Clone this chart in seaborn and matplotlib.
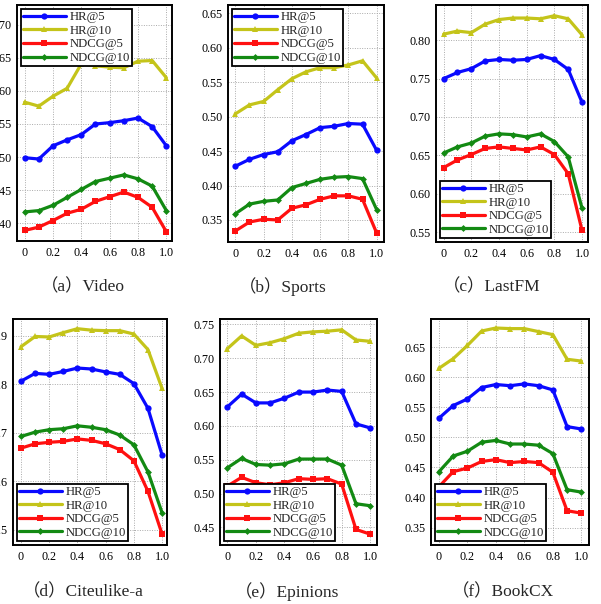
import numpy as np
import pandas as pd
import matplotlib
matplotlib.use("Agg")
import matplotlib.pyplot as plt
import seaborn as sns

sns.set_theme(style="white")
plt.rcParams['font.family'] = ['Liberation Serif', 'Noto Sans CJK SC', 'DejaVu Sans']

x_vals = [0.0, 0.1, 0.2, 0.3, 0.4, 0.5, 0.6, 0.7, 0.8, 0.9, 1.0]
series_names = ["HR@5", "HR@10", "NDCG@5", "NDCG@10"]
titles = ["（a）Video", "（b）Sports", "（c）LastFM", "（d）Citeulike-a", "（e）Epinions", "（f）BookCX"]

video_hr5 = [0.499, 0.497, 0.517, 0.526, 0.534, 0.550, 0.552, 0.555, 0.559, 0.546, 0.517]
video_hr10 = [0.583, 0.577, 0.592, 0.604, 0.641, 0.638, 0.636, 0.635, 0.645, 0.646, 0.620]
video_ndcg5 = [0.389, 0.394, 0.404, 0.415, 0.421, 0.433, 0.440, 0.447, 0.439, 0.424, 0.387]
video_ndcg10 = [0.417, 0.419, 0.427, 0.439, 0.451, 0.463, 0.468, 0.473, 0.467, 0.456, 0.419]

sports_hr5 = [0.428, 0.438, 0.445, 0.449, 0.465, 0.474, 0.484, 0.486, 0.490, 0.489, 0.451]
sports_hr10 = [0.504, 0.517, 0.522, 0.539, 0.555, 0.565, 0.571, 0.571, 0.575, 0.581, 0.556]
sports_ndcg5 = [0.334, 0.347, 0.351, 0.350, 0.367, 0.372, 0.380, 0.385, 0.385, 0.380, 0.331]
sports_ndcg10 = [0.359, 0.373, 0.377, 0.379, 0.397, 0.403, 0.409, 0.412, 0.413, 0.410, 0.365]

lastfm_hr5 = [0.750, 0.758, 0.763, 0.773, 0.775, 0.774, 0.775, 0.780, 0.775, 0.762, 0.719]
lastfm_hr10 = [0.808, 0.812, 0.810, 0.821, 0.827, 0.829, 0.829, 0.828, 0.832, 0.828, 0.807]
lastfm_ndcg5 = [0.634, 0.644, 0.651, 0.659, 0.661, 0.659, 0.657, 0.661, 0.651, 0.626, 0.552]
lastfm_ndcg10 = [0.653, 0.661, 0.666, 0.675, 0.678, 0.677, 0.674, 0.678, 0.668, 0.648, 0.581]

cite_hr5 = [0.806, 0.822, 0.820, 0.826, 0.833, 0.831, 0.825, 0.820, 0.801, 0.750, 0.654]
cite_hr10 = [0.877, 0.898, 0.897, 0.906, 0.914, 0.911, 0.910, 0.910, 0.903, 0.871, 0.791]
cite_ndcg5 = [0.668, 0.677, 0.680, 0.682, 0.687, 0.684, 0.677, 0.665, 0.642, 0.579, 0.491]
cite_ndcg10 = [0.692, 0.701, 0.706, 0.708, 0.714, 0.711, 0.706, 0.695, 0.675, 0.619, 0.535]

epin_hr5 = [0.628, 0.647, 0.634, 0.634, 0.641, 0.650, 0.650, 0.653, 0.651, 0.603, 0.597]
epin_hr10 = [0.714, 0.733, 0.719, 0.723, 0.729, 0.737, 0.739, 0.740, 0.742, 0.727, 0.725]
epin_ndcg5 = [0.511, 0.524, 0.516, 0.513, 0.516, 0.522, 0.521, 0.522, 0.514, 0.447, 0.440]
epin_ndcg10 = [0.538, 0.552, 0.543, 0.542, 0.544, 0.551, 0.551, 0.551, 0.542, 0.485, 0.482]

book_hr5 = [0.532, 0.553, 0.564, 0.583, 0.588, 0.586, 0.589, 0.586, 0.579, 0.518, 0.514]
book_hr10 = [0.615, 0.631, 0.653, 0.677, 0.682, 0.681, 0.681, 0.676, 0.671, 0.630, 0.627]
book_ndcg5 = [0.418, 0.443, 0.449, 0.460, 0.463, 0.458, 0.460, 0.458, 0.442, 0.378, 0.374]
book_ndcg10 = [0.443, 0.469, 0.477, 0.492, 0.495, 0.489, 0.489, 0.487, 0.473, 0.413, 0.409]

panels = [
    [video_hr5, video_hr10, video_ndcg5, video_ndcg10],
    [sports_hr5, sports_hr10, sports_ndcg5, sports_ndcg10],
    [lastfm_hr5, lastfm_hr10, lastfm_ndcg5, lastfm_ndcg10],
    [cite_hr5, cite_hr10, cite_ndcg5, cite_ndcg10],
    [epin_hr5, epin_hr10, epin_ndcg5, epin_ndcg10],
    [book_hr5, book_hr10, book_ndcg5, book_ndcg10],
]

colors = ["#0a0aff", "#c4c41a", "#ff1010", "#138a13"]
markers = ["o", "^", "s", "D"]

W, H = 601, 604
# axes boxes in pixels: left, top, right, bottom
boxes = [(17, 5, 172, 241), (228, 5, 384, 242), (436, 5, 588, 242),
         (13, 319, 167, 545), (220, 319, 377, 545), (431, 319, 589, 545)]
ylims = [(0.373, 0.730), (0.318, 0.662), (0.537, 0.846),
         (0.4685, 0.934), (0.424, 0.758), (0.321, 0.697)]
yticks = [np.arange(0.40, 0.701, 0.05), np.arange(0.35, 0.651, 0.05), np.arange(0.55, 0.801, 0.05),
          np.arange(0.5, 0.901, 0.1), np.arange(0.45, 0.751, 0.05), np.arange(0.35, 0.651, 0.05)]
yfmt = ["{:.2f}", "{:.2f}", "{:.2f}", "{:.1f}", "{:.2f}", "{:.2f}"]
xlims = [(-0.054, 1.04), (-0.052, 1.052), (-0.055, 1.043),
         (-0.057, 1.035), (-0.051, 1.047), (-0.056, 1.054)]
legend_loc = ["upper left", "upper left", "lower left", "lower left", "lower left", "lower left"]
title_pos = [(83, 287), (283, 287), (492, 287), (83, 592), (287, 592), (503, 592)]

fig = plt.figure(figsize=(W / 100, H / 100), dpi=100)

for i, (l, t, r, b) in enumerate(boxes):
    ax = fig.add_axes([l / W, 1 - b / H, (r - l) / W, (b - t) / H])
    for j, name in enumerate(series_names):
        df = pd.DataFrame({"x": x_vals, "y": panels[i][j]})
        sns.lineplot(data=df, x="x", y="y", ax=ax, color=colors[j], marker=markers[j],
                     markersize=4.5 if markers[j] != "D" else 3.5, markeredgewidth=0,
                     linewidth=2.3, label=name)
    ax.set_xlim(*xlims[i])
    ax.set_ylim(*ylims[i])
    ax.set_xticks([0, 0.2, 0.4, 0.6, 0.8, 1.0])
    ax.set_xticklabels(["0", "0.2", "0.4", "0.6", "0.8", "1.0"])
    ax.set_yticks(yticks[i])
    ax.set_yticklabels([yfmt[i].format(v) for v in yticks[i]])
    ax.set_xlabel("")
    ax.set_ylabel("")
    ax.grid(True, linestyle=(0, (1, 1.5)), color="#aaaaaa", linewidth=0.7)
    ax.tick_params(axis="both", length=0, labelsize=8.7, colors="black", pad=4)
    for sp in ax.spines.values():
        sp.set_color("black")
        sp.set_linewidth(1.4)
    leg = ax.legend(loc=legend_loc[i], fontsize=9.2, frameon=True, fancybox=False,
                    framealpha=1, edgecolor="black", handlelength=3.3, handletextpad=0.3,
                    borderpad=0.15, labelspacing=0.12, borderaxespad=0.35)
    leg.get_frame().set_linewidth(1.3)
    tx, ty = title_pos[i]
    fig.text(tx / W, 1 - ty / H, titles[i], ha="center", va="center", fontsize=12.5)

fig.savefig("out.png", dpi=100)
